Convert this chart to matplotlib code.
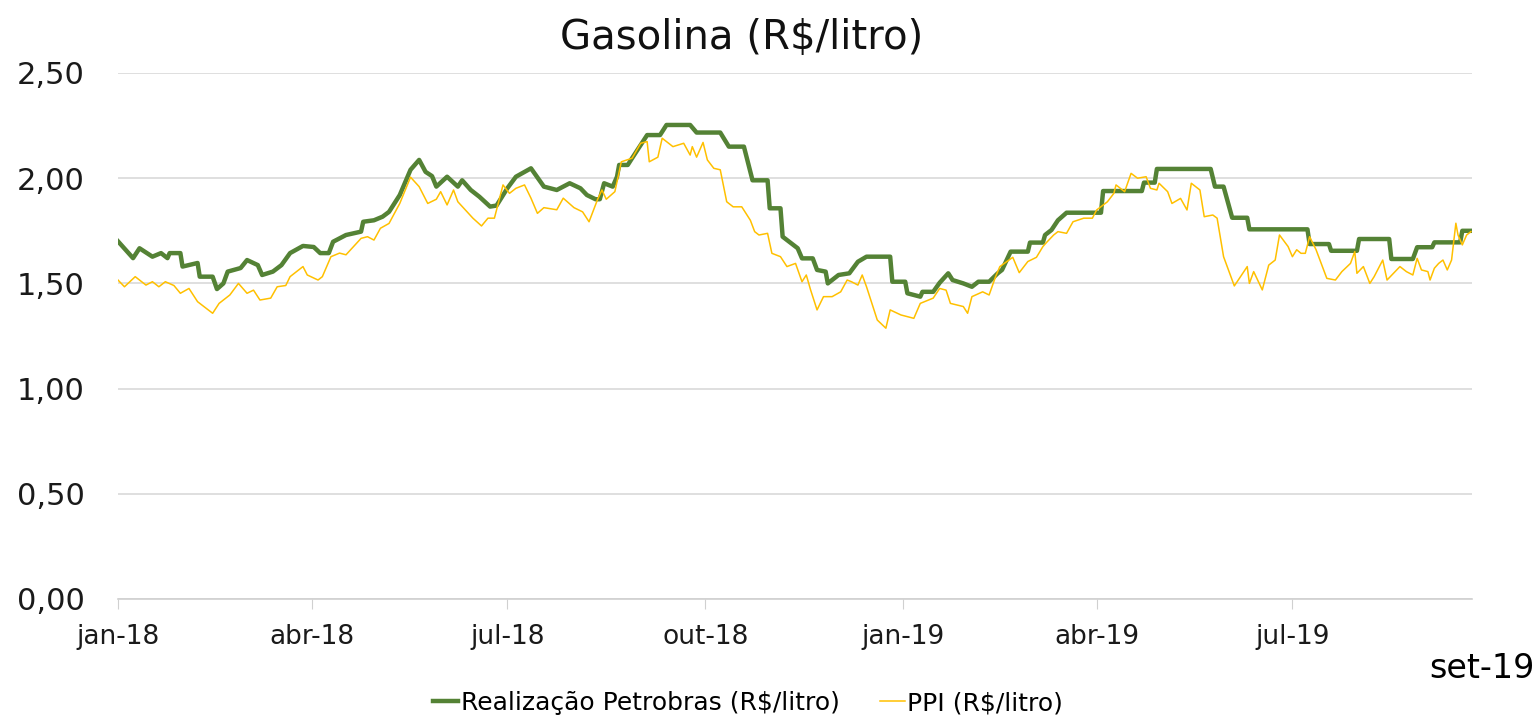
import numpy as np
import pandas as pd
import matplotlib
matplotlib.use("Agg")
import matplotlib.pyplot as plt

# days since 2018-01-01 and price (R$/litro)
realizacao_days = [
    0, 7, 10, 16, 20, 23, 24, 29, 30, 37, 38, 44, 46, 49, 51, 57, 60, 65, 67, 72,
    76, 80, 86, 91, 94, 98, 100, 106, 113, 114, 119, 123, 126, 131, 136, 140, 143, 146, 148, 153,
    158, 160, 164, 168, 173, 176, 181, 185, 192, 198, 204, 210, 215, 218, 222, 224, 226, 230, 232, 233,
    237, 239, 246, 252, 255, 266, 269, 280, 284, 291, 295, 302, 303, 308, 309, 316, 318, 323, 325, 329,
    330, 335, 340, 344, 348, 359, 360, 366, 367, 373, 374, 379, 382, 386, 388, 393, 397, 400, 405, 409,
    411, 415, 423, 424, 430, 431, 434, 437, 441, 457, 458, 476, 477, 482, 483, 508, 510, 514, 518, 525,
    526, 553, 554, 563, 564, 576, 577, 591, 592, 602, 604, 611, 612, 624, 625, 629,
]
realizacao = [
    1.70, 1.62, 1.667, 1.627, 1.644, 1.62, 1.644, 1.644, 1.58, 1.597, 1.532, 1.532, 1.473, 1.50, 1.556, 1.573, 1.611, 1.587, 1.54, 1.556,
    1.587, 1.644, 1.678, 1.673, 1.644, 1.644, 1.698, 1.73, 1.746, 1.793, 1.80, 1.817, 1.84, 1.92, 2.04, 2.087, 2.03, 2.01, 1.96, 2.007,
    1.96, 1.99, 1.944, 1.912, 1.865, 1.87, 1.952, 2.007, 2.047, 1.96, 1.944, 1.976, 1.952, 1.92, 1.90, 1.90, 1.976, 1.96, 2.007, 2.063,
    2.063, 2.095, 2.205, 2.205, 2.253, 2.253, 2.217, 2.217, 2.15, 2.15, 1.99, 1.99, 1.857, 1.857, 1.722, 1.667, 1.619, 1.619, 1.564, 1.556,
    1.50, 1.54, 1.548, 1.603, 1.627, 1.627, 1.508, 1.508, 1.453, 1.437, 1.46, 1.46, 1.503, 1.548, 1.516, 1.50, 1.484, 1.508, 1.508, 1.548,
    1.564, 1.651, 1.651, 1.694, 1.694, 1.73, 1.754, 1.80, 1.836, 1.836, 1.939, 1.939, 1.979, 1.979, 2.044, 2.044, 1.96, 1.96, 1.812, 1.812,
    1.757, 1.757, 1.687, 1.687, 1.655, 1.655, 1.711, 1.711, 1.616, 1.616, 1.672, 1.672, 1.695, 1.695, 1.75, 1.75,
]

ppi_days = [
    0, 3, 8, 13, 16, 19, 22, 26, 29, 33, 37, 44, 47, 52, 56, 60, 63, 66, 71, 74,
    78, 80, 86, 88, 93, 95, 99, 103, 106, 113, 116, 119, 122, 126, 131, 136, 140, 144, 148, 150,
    153, 156, 158, 165, 169, 172, 175, 179, 182, 185, 189, 192, 195, 198, 204, 207, 212, 216, 219, 223,
    225, 227, 231, 234, 239, 243, 246, 247, 251, 253, 258, 263, 266, 267, 269, 272, 274, 277, 280, 283,
    286, 290, 294, 296, 298, 302, 304, 308, 311, 315, 318, 320, 322, 325, 328, 332, 336, 339, 341, 344,
    346, 348, 351, 353, 357, 359, 364, 370, 373, 379, 382, 385, 387, 393, 395, 397, 402, 405, 408, 410,
    416, 419, 423, 427, 430, 432, 435, 437, 441, 444, 449, 453, 455, 460, 463, 464, 466, 468, 471, 474,
    478, 480, 483, 484, 488, 490, 494, 497, 499, 503, 505, 509, 511, 514, 519, 525, 526, 528, 532, 535,
    538, 540, 544, 546, 548, 550, 552, 554, 557, 562, 566, 569, 573, 575, 576, 579, 582, 584, 588, 590,
    593, 596, 599, 602, 604, 606, 609, 610, 612, 614, 616, 618, 620, 622, 623, 625, 627, 629,
]
ppi = [
    1.516, 1.484, 1.532, 1.492, 1.508, 1.484, 1.508, 1.49, 1.453, 1.476, 1.413, 1.358, 1.405, 1.445, 1.50, 1.453, 1.468, 1.421, 1.43, 1.484,
    1.49, 1.532, 1.58, 1.54, 1.516, 1.532, 1.627, 1.644, 1.636, 1.714, 1.722, 1.706, 1.762, 1.785, 1.88, 2.005, 1.96, 1.88, 1.90, 1.936,
    1.873, 1.944, 1.888, 1.81, 1.773, 1.81, 1.81, 1.968, 1.928, 1.952, 1.968, 1.905, 1.833, 1.86, 1.85, 1.905, 1.86, 1.84, 1.793, 1.90,
    1.944, 1.90, 1.936, 2.078, 2.095, 2.166, 2.174, 2.078, 2.10, 2.19, 2.15, 2.166, 2.11, 2.15, 2.10, 2.17, 2.087, 2.047, 2.04, 1.888,
    1.864, 1.864, 1.80, 1.746, 1.73, 1.738, 1.643, 1.627, 1.58, 1.595, 1.508, 1.54, 1.469, 1.374, 1.437, 1.437, 1.46, 1.516, 1.508, 1.492,
    1.54, 1.484, 1.389, 1.326, 1.287, 1.374, 1.35, 1.334, 1.405, 1.43, 1.476, 1.468, 1.405, 1.39, 1.358, 1.437, 1.46, 1.445, 1.532, 1.58,
    1.624, 1.551, 1.604, 1.624, 1.675, 1.698, 1.73, 1.746, 1.738, 1.793, 1.81, 1.81, 1.849, 1.888, 1.928, 1.968, 1.952, 1.936, 2.023, 2.00,
    2.007, 1.952, 1.944, 1.976, 1.936, 1.88, 1.904, 1.849, 1.976, 1.944, 1.817, 1.825, 1.81, 1.627, 1.488, 1.58, 1.50, 1.556, 1.469, 1.587,
    1.611, 1.73, 1.675, 1.627, 1.66, 1.643, 1.643, 1.722, 1.66, 1.524, 1.516, 1.556, 1.595, 1.651, 1.548, 1.58, 1.50, 1.532, 1.611, 1.516,
    1.548, 1.58, 1.556, 1.54, 1.619, 1.564, 1.556, 1.516, 1.572, 1.595, 1.611, 1.564, 1.611, 1.786, 1.73, 1.683, 1.73, 1.746,
]

tick_dates = ["2018-01-01", "2018-04-01", "2018-07-01", "2018-10-01",
              "2019-01-01", "2019-04-01", "2019-07-01"]
tick_labels = ["jan-18", "abr-18", "jul-18", "out-18", "jan-19", "abr-19", "jul-19"]
y_ticks = [0.0, 0.5, 1.0, 1.5, 2.0, 2.5]
y_labels = ["0,00", "0,50", "1,00", "1,50", "2,00", "2,50"]

start = pd.Timestamp("2018-01-01")
x_real = start + pd.to_timedelta(realizacao_days, unit="D")
x_ppi = start + pd.to_timedelta(ppi_days, unit="D")

fig = plt.figure(figsize=(15.4, 7.19), dpi=100)
ax = fig.add_axes([118 / 1540, 1 - 599 / 719, (1472 - 118) / 1540, (599 - 73) / 719])

ax.plot(x_real, realizacao, color="#548235", lw=3.2, label="Realização Petrobras (R$/litro)", zorder=3)
ax.plot(x_ppi, ppi, color="#FFC000", lw=1.1, label="PPI (R$/litro)", zorder=4)

ax.set_ylim(0, 2.5)
ax.set_xlim(start, start + pd.Timedelta(days=629.5))
ax.set_yticks(y_ticks)
ax.set_yticklabels(y_labels, fontsize=22, color="#1a1a1a")
ax.set_xticks(pd.to_datetime(tick_dates))
ax.set_xticklabels(tick_labels, fontsize=19, color="#1a1a1a")
ax.tick_params(axis="y", length=0, pad=24)
ax.tick_params(axis="x", length=7, color="#d0d0d0", pad=11)
ax.grid(axis="y", color="#d9d9d9", lw=1.2)
for side in ["top", "right", "left"]:
    ax.spines[side].set_visible(False)
ax.spines["bottom"].set_color("#d0d0d0")
ax.spines["bottom"].set_linewidth(1.2)

fig.text(742 / 1540, 1 - 38 / 719, "Gasolina (R$/litro)", fontsize=29,
         ha="center", va="center", color="#111111")
fig.text(1482 / 1540, 1 - 668 / 719, "set-19", fontsize=24, ha="center", va="center", color="black")

fig.legend(loc="center", bbox_to_anchor=(748 / 1540, 1 - 703 / 719), ncol=2, frameon=False,
           fontsize=18, handlelength=1.0, handletextpad=0.1, columnspacing=1.6)

fig.savefig("out.png", dpi=100)
